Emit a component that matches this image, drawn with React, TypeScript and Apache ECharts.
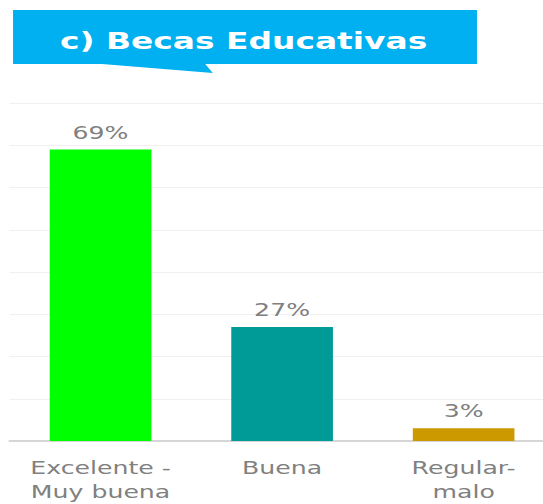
import React, { useEffect, useRef } from "react";
import * as echarts from "echarts";

const titleText = "c) Becas Educativas";
const categories = ["Excelente -\nMuy buena", "Buena", "Regular-\nmalo"];
const values = [69, 27, 3];
const barColors = ["#00ff00", "#009a97", "#cc9a00"];
const yMax = 80;
const yInterval = 10;

const STRETCH = 1.4;
const INNER_W = 400;

export default function App() {
  const ref = useRef<HTMLDivElement>(null);
  useEffect(() => {
    if (!ref.current) return;
    const chart = echarts.init(ref.current, null, { renderer: "svg" });
    chart.setOption({
      animation: false,
      backgroundColor: "#ffffff",
      grid: { left: 7, right: 4, top: 103, bottom: 58, containLabel: false },
      xAxis: {
        type: "category",
        data: categories,
        axisTick: { show: false },
        axisLine: { show: true, lineStyle: { color: "#d6d6d6", width: 2 } },
        axisLabel: {
          color: "#808080",
          fontFamily: "DejaVu Sans",
          fontSize: 18,
          lineHeight: 24,
          margin: 15,
          interval: 0,
        },
      },
      yAxis: {
        type: "value",
        min: 0,
        max: yMax,
        interval: yInterval,
        axisLabel: { show: false },
        axisLine: { show: false },
        axisTick: { show: false },
        splitLine: { show: true, lineStyle: { color: "#f0f0f0", width: 1 } },
      },
      series: [
        {
          type: "bar",
          data: values.map((v, i) => ({ value: v, itemStyle: { color: barColors[i] } })),
          barWidth: "56%",
          label: {
            show: true,
            position: "top",
            distance: 8,
            formatter: "{c}%",
            color: "#808080",
            fontFamily: "DejaVu Sans",
            fontSize: 18,
          },
        },
      ],
      graphic: [
        {
          type: "rect",
          shape: { x: 9.3, y: 10, width: 331.4, height: 54 },
          style: { fill: "#00b0f0" },
        },
        {
          type: "polygon",
          shape: { points: [[64, 63], [152, 73], [146, 63]] },
          style: { fill: "#00b0f0" },
        },
        {
          type: "text",
          x: 174,
          y: 41,
          style: {
            text: titleText,
            fill: "#ffffff",
            font: "bold 23.5px 'DejaVu Sans'",
            textAlign: "center",
            textVerticalAlign: "middle",
          },
        },
      ],
    });
    return () => chart.dispose();
  }, []);
  return (
    <div style={{ position: "fixed", left: 0, top: 0, width: 543, height: 504, overflow: "hidden", background: "#fff" }}>
      <div
        ref={ref}
        style={{
          width: INNER_W,
          height: 504,
          transform: `scaleX(${STRETCH})`,
          transformOrigin: "0 0",
        }}
      />
    </div>
  );
}
